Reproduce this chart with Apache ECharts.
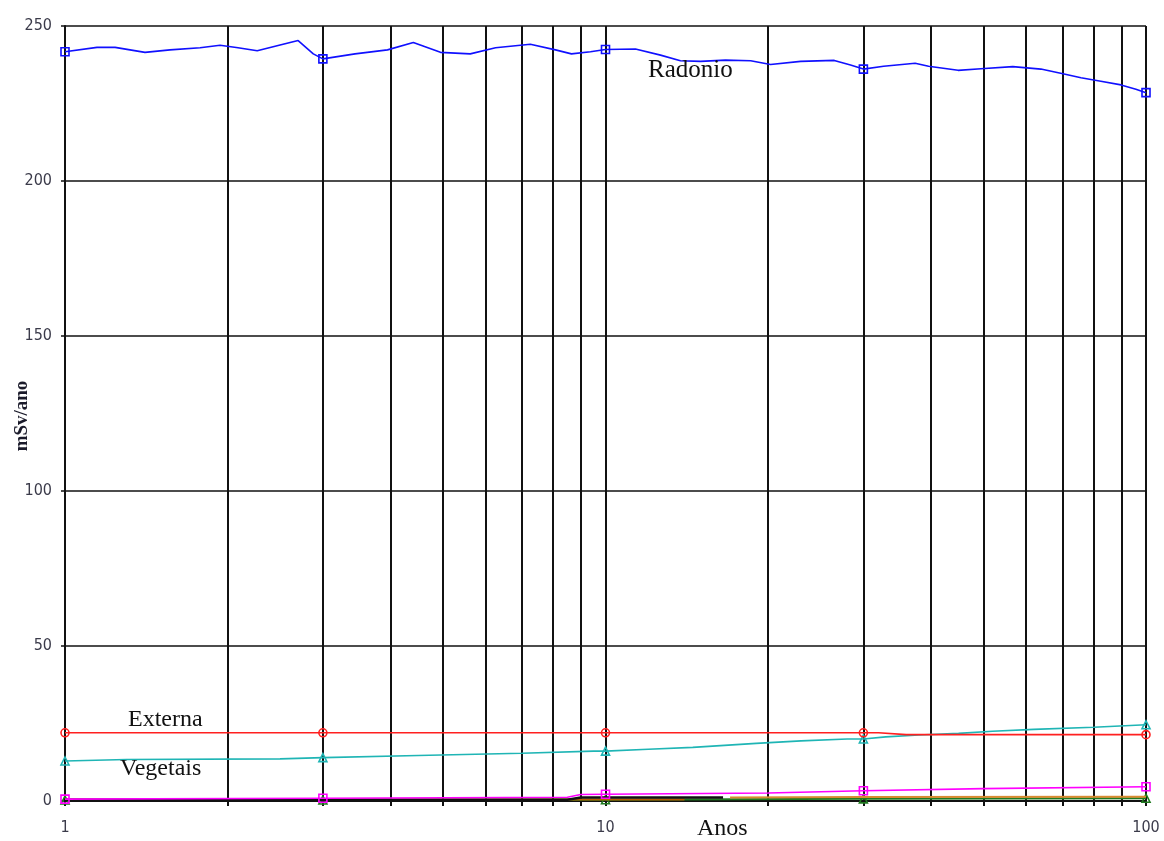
<!DOCTYPE html>
<html>
<head>
<meta charset="utf-8">
<title>Dose anual</title>
<script src="https://cdn.jsdelivr.net/npm/echarts@6/dist/echarts.min.js"></script>
<style>
  html, body { margin: 0; padding: 0; background: #ffffff; }
  #chart { width: 1164px; height: 841px; }
</style>
</head>
<body>
<div id="chart"></div>
<script>
// Years at which each curve carries a marker
const markerYears = [1, 3, 10, 30, 100];

// Radonio (mSv/ano)
const radonioYears = [1, 1.146, 1.238, 1.406, 1.564, 1.778, 1.936, 2.09, 2.268, 2.5, 2.7, 2.88, 3,
  3.44, 3.95, 4.41, 4.95, 5.62, 6.26, 7.26, 8.08, 8.65, 9.38, 10,
  11.36, 12.64, 13.76, 15.0, 16.67, 18.56, 20.2, 22.96, 26.5, 28.4, 30,
  32.7, 37.4, 39.6, 44.9, 49.5, 56.7, 63.9, 70.2, 75.8, 82.5, 89.9, 95.8, 100];
const radonioValues = [241.7, 243.1, 243.1, 241.5, 242.3, 243.0, 243.8, 243.0, 242.0, 243.9, 245.3, 241.0, 239.4,
  241.0, 242.3, 244.7, 241.5, 241.0, 243.0, 244.1, 242.3, 241.0, 241.7, 242.4,
  242.6, 240.6, 238.8, 238.6, 239.0, 238.8, 237.6, 238.6, 238.9, 237.4, 236.1,
  237.0, 238.0, 237.0, 235.7, 236.2, 236.9, 236.1, 234.6, 233.3, 232.2, 231.0, 229.6, 228.5];

// Externa
const externaYears = [1, 3, 10, 30, 32, 36, 100];
const externaValues = [22.0, 22.0, 22.0, 22.0, 22.0, 21.4, 21.4];

// Vegetais
const vegetaisYears = [1, 1.3, 2.5, 3, 4.5, 7, 9.5, 10, 12, 14.5, 19, 23, 28, 30, 33, 38, 45, 52, 62, 80, 100];
const vegetaisValues = [12.9, 13.4, 13.6, 14.0, 14.7, 15.4, 16.1, 16.1, 16.7, 17.3, 18.6, 19.4, 20.0, 20.0, 20.7, 21.3, 21.8, 22.5, 23.1, 23.8, 24.6];

// Minor pathways near zero
const magentaYears = [1, 3, 8.5, 9, 10, 20, 30, 50, 100];
const magentaValues = [0.6, 0.9, 1.2, 2.1, 2.2, 2.6, 3.3, 4.0, 4.6];
const blackYears = [1, 8.5, 9, 10, 16.5];
const blackValues = [0.4, 0.4, 1.1, 1.1, 1.1];
const brownYears = [1, 3, 10, 14];
const brownValues = [0.5, 0.5, 0.5, 0.5];
const orangeYears = [17, 30, 100];
const orangeValues = [1.1, 1.3, 1.4];
const greenYears = [1, 3, 10, 30, 100];
const greenValues = [0.3, 0.3, 0.4, 0.7, 0.9];

// Axis ticks
const xTickValues = [1, 2, 3, 4, 5, 6, 7, 8, 9, 10, 20, 30, 40, 50, 60, 70, 80, 90, 100];
const xLabelValues = [1, 10, 100];
const yMin = 0, yMax = 250, yStep = 50;

function pairs(xs, ys) { return xs.map((x, i) => [x, ys[i]]); }

function lineSeries(name, xs, ys, color, symbol, width, z) {
  return {
    name: name,
    type: 'line',
    data: pairs(xs, ys),
    z: z,
    showSymbol: true,
    showAllSymbol: true,
    symbol: function (v) { return markerYears.indexOf(v[0]) >= 0 ? symbol : 'none'; },
    symbolSize: 8,
    lineStyle: { color: color, width: width },
    itemStyle: { color: 'rgba(255,255,255,0)', borderColor: color, borderWidth: 1.6 },
    emphasis: { disabled: true },
    silent: true
  };
}

const chart = echarts.init(document.getElementById('chart'), null, { renderer: 'canvas' });

const labelFont = "'Liberation Sans Narrow', 'DejaVu Sans Condensed', 'Liberation Sans', sans-serif";
const serifFont = "'Liberation Serif', 'DejaVu Serif', serif";

chart.setOption({
  animation: false,
  backgroundColor: '#ffffff',
  grid: { left: 65, right: 18, top: 26, bottom: 40, containLabel: false, outerBoundsMode: 'none' },
  xAxis: {
    type: 'log',
    logBase: 10,
    min: 1,
    max: 100,
    axisLine: { show: true, lineStyle: { color: '#111', width: 2 } },
    axisTick: { show: true, customValues: xTickValues, length: 5, lineStyle: { color: '#111', width: 2 } },
    axisLabel: {
      customValues: xLabelValues,
      color: '#3b3b4a', fontFamily: labelFont, fontSize: 16, margin: 19
    },
    splitLine: { show: true, lineStyle: { color: '#111', width: 2 } },
    minorTick: { show: false },
    minorSplitLine: { show: false }
  },
  yAxis: {
    type: 'value',
    min: yMin,
    max: yMax,
    interval: yStep,
    axisLine: { show: true, lineStyle: { color: '#111', width: 2 } },
    axisTick: { show: true, length: 4, lineStyle: { color: '#111', width: 1.5 } },
    axisLabel: { color: '#3b3b4a', fontFamily: labelFont, fontSize: 16, margin: 13 },
    splitLine: { show: true, lineStyle: { color: '#111', width: 1.6 } }
  },
  graphic: [
    { type: 'text', x: 22, y: 416, rotation: Math.PI / 2, z: 100,
      style: { text: 'mSv/ano', font: "bold 19px " + serifFont, fill: '#1a1a2a',
               align: 'center', verticalAlign: 'middle' } },
    { type: 'text', left: 648, top: 58, z: 100,
      style: { text: 'Radonio', font: "25px " + serifFont, fill: '#111' } },
    { type: 'text', left: 128, top: 708, z: 100,
      style: { text: 'Externa', font: "24px " + serifFont, fill: '#111' } },
    { type: 'text', left: 120, top: 757, z: 100,
      style: { text: 'Vegetais', font: "24px " + serifFont, fill: '#111' } },
    { type: 'text', left: 697, top: 817, z: 100,
      style: { text: 'Anos', font: "24px " + serifFont, fill: '#111' } }
  ],
  series: [
    lineSeries('Solo', greenYears, greenValues, '#1f7a1f', 'triangle', 2, 2),
    lineSeries('Ar', brownYears, brownValues, '#b35a00', 'none', 2, 3),
    lineSeries('Agua', blackYears, blackValues, '#111111', 'none', 2.5, 4),
    lineSeries('Leite', orangeYears, orangeValues, '#d98a30', 'none', 2, 5),
    lineSeries('Carne', magentaYears, magentaValues, '#ff00ff', 'rect', 1.6, 6),
    lineSeries('Vegetais', vegetaisYears, vegetaisValues, '#1fb5b5', 'triangle', 1.6, 7),
    lineSeries('Externa', externaYears, externaValues, '#ff2020', 'circle', 1.6, 8),
    lineSeries('Radonio', radonioYears, radonioValues, '#1010ff', 'rect', 1.6, 9)
  ]
});
</script>
</body>
</html>
